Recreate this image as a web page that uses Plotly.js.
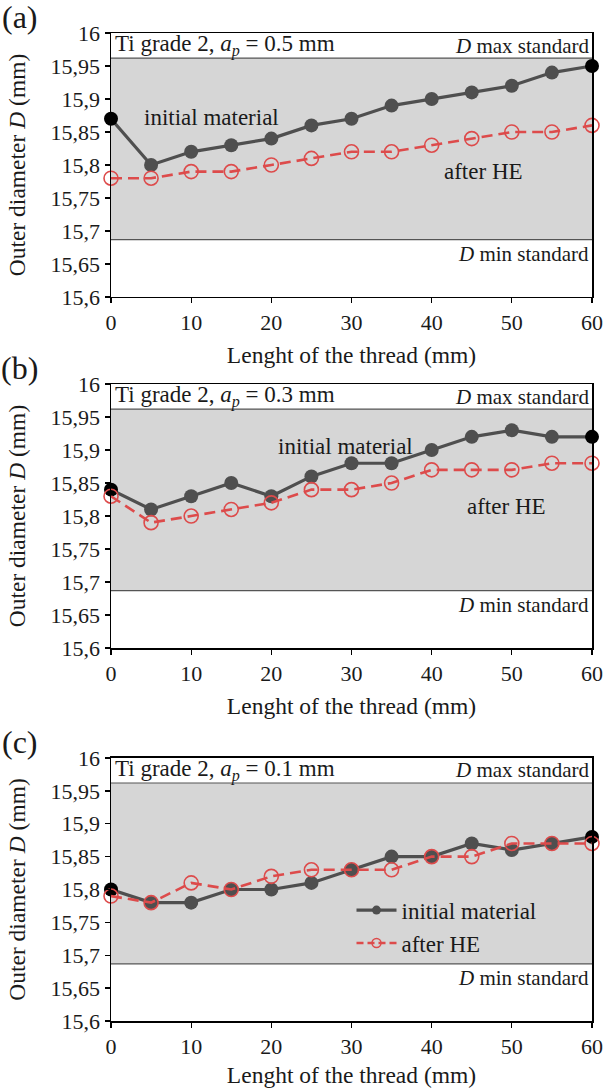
<!DOCTYPE html>
<html>
<head>
<meta charset="utf-8">
<script src="https://cdn.plot.ly/plotly-3.0.1.min.js"></script>
<style>
html,body{margin:0;padding:0;background:#fff;}
#chart{width:603px;height:1088px;}
#chart svg text{font-family:"Liberation Serif","Times New Roman",Tinos,"DejaVu Serif",serif !important;}
</style>
</head>
<body>
<div id="chart"></div>
<script>
// ---- data ----
const threadLength = [0, 5, 10, 15, 20, 25, 30, 35, 40, 45, 50, 55, 60];

const initialA = [15.87, 15.80, 15.82, 15.83, 15.84, 15.86, 15.87, 15.89, 15.90, 15.91, 15.92, 15.94, 15.95];
const afterHEA = [15.78, 15.78, 15.79, 15.79, 15.80, 15.81, 15.82, 15.82, 15.83, 15.84, 15.85, 15.85, 15.86];

const initialB = [15.84, 15.81, 15.83, 15.85, 15.83, 15.86, 15.88, 15.88, 15.90, 15.92, 15.93, 15.92, 15.92];
const afterHEB = [15.83, 15.79, 15.80, 15.81, 15.82, 15.84, 15.84, 15.85, 15.87, 15.87, 15.87, 15.88, 15.88];

const initialC = [15.80, 15.78, 15.78, 15.80, 15.80, 15.81, 15.83, 15.85, 15.85, 15.87, 15.86, 15.87, 15.88];
const afterHEC = [15.79, 15.78, 15.81, 15.80, 15.82, 15.83, 15.83, 15.83, 15.85, 15.85, 15.87, 15.87, 15.87];

const dMax = 15.962;
const dMin = 15.687;

const panelLabels = ["(a)", "(b)", "(c)"];
const depthLabels = ["0.5", "0.3", "0.1"];
const seriesNames = ["initial material", "after HE"];

const yTickVals = [15.6, 15.65, 15.7, 15.75, 15.8, 15.85, 15.9, 15.95, 16];
const yTickText = ["15,6", "15,65", "15,7", "15,75", "15,8", "15,85", "15,9", "15,95", "16"];
const xTickVals = [0, 10, 20, 30, 40, 50, 60];

// ---- figure ----
const FONT = "Liberation Serif";
const GRAY = "#4f4f4f";
const RED = "#dd4b4b";
const TXT = "#1a1a1a";
const DASH = "11px,6px";

const initials = [initialA, initialB, initialC];
const afters = [afterHEA, afterHEB, afterHEC];

function endColors(n, mid, end) {
  return threadLength.map((_, i) => (i === 0 || i === n - 1) ? end : mid);
}

const traces = [];
const domains = [[0.7328, 1.0], [0.3775, 0.6447], [0.0, 0.2662]];
const layout = {
  width: 603, height: 1088,
  margin: {l: 111, r: 11, t: 33, b: 67},
  paper_bgcolor: "#ffffff",
  plot_bgcolor: "#ffffff",
  font: {family: FONT, color: TXT, size: 22},
  showlegend: true,
  legend: {
    x: 0.5, y: 0.134, xanchor: "left", yanchor: "top",
    bgcolor: "rgba(0,0,0,0)", font: {family: FONT, size: 23, color: TXT},
    tracegroupgap: 0, itemwidth: 40
  },
  shapes: [], annotations: []
};

for (let k = 0; k < 3; k++) {
  const sfx = k === 0 ? "" : String(k + 1);
  const xa = "x" + sfx, ya = "y" + sfx;
  traces.push({
    x: threadLength, y: initials[k], xaxis: xa, yaxis: ya,
    type: "scatter", mode: "lines+markers", name: seriesNames[0],
    showlegend: false, cliponaxis: false,
    line: {color: GRAY, width: 3.2},
    marker: {symbol: "circle", size: 14, color: endColors(threadLength.length, GRAY, "#000")}
  });
  traces.push({
    x: threadLength, y: afters[k], xaxis: xa, yaxis: ya,
    type: "scatter", mode: "lines+markers", name: seriesNames[1],
    showlegend: false, cliponaxis: false,
    line: {color: RED, width: 2.6, dash: DASH},
    marker: {symbol: "circle-open", size: 14, color: RED, line: {width: 1.6, color: RED}}
  });

  layout["xaxis" + sfx] = {
    domain: [0, 1], anchor: ya, range: [0, 60],
    tickvals: xTickVals, ticks: "outside", ticklen: 5, tickwidth: 1.3, tickcolor: "#000",
    showline: true, linecolor: "#000", linewidth: 1.5, mirror: true,
    showgrid: false, zeroline: false,
    tickfont: {family: FONT, size: 22, color: TXT},
    title: {text: "Lenght of the thread (mm)", font: {family: FONT, size: 23.5, color: TXT}, standoff: 12}
  };
  layout["yaxis" + sfx] = {
    domain: domains[k], anchor: xa, range: [15.6, 16],
    tickvals: yTickVals, ticktext: yTickText,
    ticks: "outside", ticklen: 5, tickwidth: 1.3, tickcolor: "#000",
    showline: true, linecolor: "#000", linewidth: 1.5, mirror: true,
    showgrid: false, zeroline: false,
    tickfont: {family: FONT, size: 22, color: TXT},
    title: {text: "Outer diameter <i>D</i> (mm)", font: {family: FONT, size: 23.5, color: TXT}, standoff: 18}
  };

  layout.shapes.push({
    type: "rect", xref: xa, yref: ya, x0: 0, x1: 60, y0: dMin, y1: dMax,
    fillcolor: "#d6d6d6", line: {width: 0}, layer: "below"
  });
  layout.shapes.push({
    type: "line", xref: xa, yref: ya, x0: 0, x1: 60, y0: dMax, y1: dMax,
    line: {color: "#555", width: 1.2}, layer: "below"
  });
  layout.shapes.push({
    type: "line", xref: xa, yref: ya, x0: 0, x1: 60, y0: dMin, y1: dMin,
    line: {color: "#555", width: 1.2}, layer: "below"
  });

  layout.annotations.push({
    xref: xa + " domain", yref: ya, x: 0.005, y: (dMax + 16) / 2,
    xanchor: "left", yanchor: "middle", showarrow: false,
    text: "Ti grade 2, <i>a</i><sub><i>p</i></sub> = " + depthLabels[k] + " mm",
    font: {family: FONT, size: 23, color: TXT}
  });
  layout.annotations.push({
    xref: xa + " domain", yref: ya, x: 0.997, y: (dMax + 16) / 2,
    xanchor: "right", yanchor: "middle", showarrow: false,
    text: "<i>D</i> max standard",
    font: {family: FONT, size: 21, color: TXT}
  });
  layout.annotations.push({
    xref: xa + " domain", yref: ya, x: 0.997, y: dMin - 0.022,
    xanchor: "right", yanchor: "middle", showarrow: false,
    text: "<i>D</i> min standard",
    font: {family: FONT, size: 21, color: TXT}
  });
  layout.annotations.push({
    xref: "paper", yref: ya + " domain", x: -0.19, y: 1.06,
    xanchor: "center", yanchor: "middle", showarrow: false,
    text: panelLabels[k], font: {family: FONT, size: 32, color: TXT}
  });
}

// legend-only entries (small symbols, as in the reference legend)
traces.push({x: [null], y: [null], xaxis: "x3", yaxis: "y3", type: "scatter", mode: "lines+markers",
  name: seriesNames[0], showlegend: true,
  line: {color: GRAY, width: 3.2}, marker: {symbol: "circle", size: 9, color: GRAY}});
traces.push({x: [null], y: [null], xaxis: "x3", yaxis: "y3", type: "scatter", mode: "lines+markers",
  name: seriesNames[1], showlegend: true,
  line: {color: RED, width: 2.6, dash: "7px,4px"},
  marker: {symbol: "circle-open", size: 9, color: RED, line: {width: 1.5, color: RED}}});

// in-plot series labels for (a) and (b)
layout.annotations.push({xref: "x", yref: "y", x: 12.5, y: 15.872, showarrow: false,
  text: seriesNames[0], font: {family: FONT, size: 23, color: TXT}});
layout.annotations.push({xref: "x", yref: "y", x: 46.5, y: 15.79, showarrow: false,
  text: seriesNames[1], font: {family: FONT, size: 23, color: TXT}});
layout.annotations.push({xref: "x2", yref: "y2", x: 29.2, y: 15.905, showarrow: false,
  text: seriesNames[0], font: {family: FONT, size: 23, color: TXT}});
layout.annotations.push({xref: "x2", yref: "y2", x: 49.3, y: 15.815, showarrow: false,
  text: seriesNames[1], font: {family: FONT, size: 23, color: TXT}});

Plotly.newPlot("chart", traces, layout, {displayModeBar: false, staticPlot: true});
</script>
</body>
</html>
